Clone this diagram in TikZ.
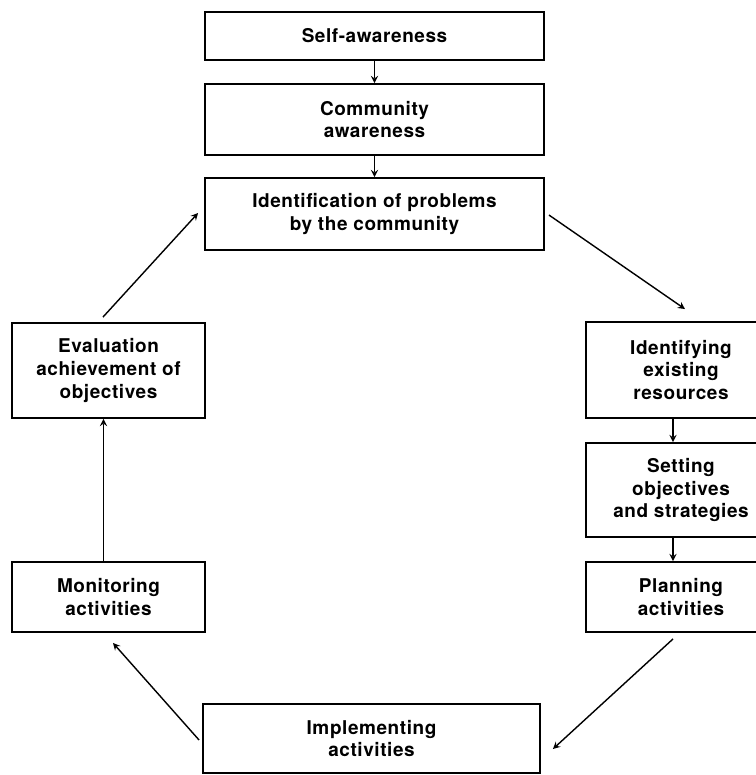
\documentclass[tikz,border=0pt]{standalone}
\usepackage{fontspec}
\setmainfont{TeX Gyre Heros}[LetterSpace=3]
\begin{document}
\begin{tikzpicture}[x=0.02cm, y=-0.02cm,
  wide/.style={rectangle, draw=black, line width=1.1pt, align=center,
               font=\fontsize{10.8}{13}\selectfont\bfseries, inner sep=0pt,
               minimum width=6.78cm},
  left/.style={rectangle, draw=black, line width=1.1pt, align=center,
               font=\fontsize{10.8}{13}\selectfont\bfseries, inner sep=0pt,
               minimum width=3.86cm},
  right/.style={rectangle, draw=black, line width=1.1pt, align=center,
                font=\fontsize{10.8}{13}\selectfont\bfseries, inner sep=0pt,
                minimum width=3.8cm},
  arr/.style={-stealth, line width=0.8pt},
]
\useasboundingbox (0,0) rectangle (755,775);

% Top column
\node[wide, minimum height=0.96cm] (self) at (374.5,36)  {Self-awareness};
\node[wide, minimum height=1.42cm] (comm) at (374.5,119.5) {Community\\awareness};
\node[wide, minimum height=1.44cm] (prob) at (374.5,214) {Identification of problems\\by the community};

% Right column
\node[right, minimum height=1.92cm] (res)  at (681,370) {Identifying\\existing\\resources};
\node[right, minimum height=1.88cm] (obj)  at (681,490) {Setting\\objectives\\and strategies};
\node[right, minimum height=1.40cm] (plan) at (681,597) {Planning\\activities};

% Bottom
\node[wide, minimum width=6.74cm, minimum height=1.38cm] (impl) at (371.5,738.5) {Implementing\\activities};

% Left column
\node[left, minimum height=1.40cm] (mon)  at (108.5,597)   {Monitoring\\activities};
\node[left, minimum height=1.90cm] (eval) at (108.5,370.5) {Evaluation\\achievement of\\objectives};

% Top column arrows
\draw[arr] (self.south) -- (comm.north);
\draw[arr] (comm.south) -- (prob.north);

% Round the cycle
\draw[arr] ([shift={(4,1)}]prob.east) -- ([shift={(4,-12)}]res.north);
\draw[arr] ([xshift=-0.16cm]res.south) -- ([xshift=-0.16cm]obj.north);
\draw[arr] ([xshift=-0.16cm]obj.south) -- ([xshift=-0.16cm]plan.north);
\draw[arr] ([shift={(-8,6)}]plan.south) -- ([shift={(12,10.5)}]impl.east);
\draw[arr] ([shift={(-3,1.5)}]impl.west) -- ([shift={(4.5,10)}]mon.south);
\draw[arr] ([xshift=-0.1cm]mon.north) -- ([xshift=-0.1cm]eval.south);
\draw[arr] ([shift={(-5.5,-5)}]eval.north) -- ([shift={(-6,-1)}]prob.west);

\end{tikzpicture}
\end{document}
